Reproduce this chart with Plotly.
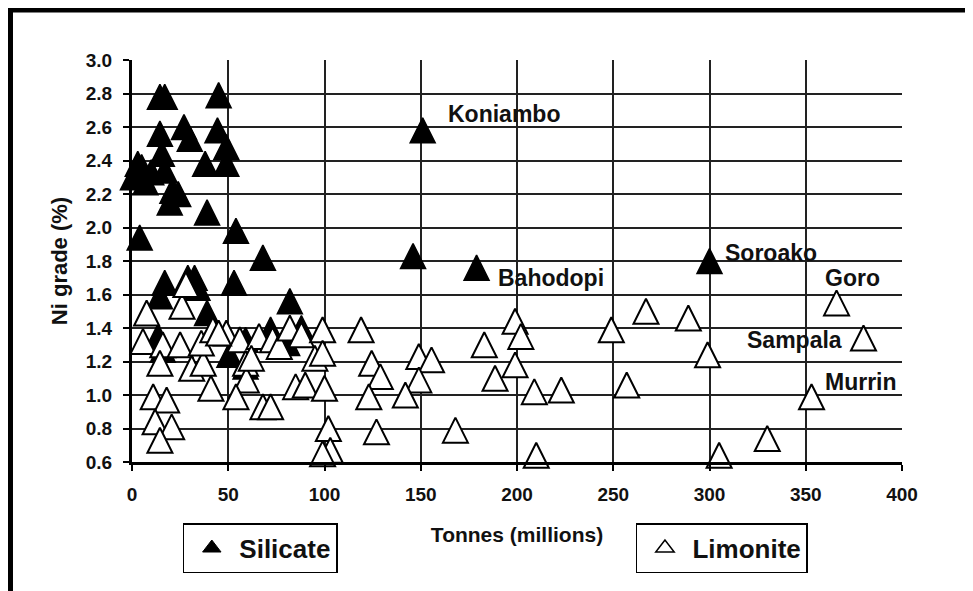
import plotly.graph_objects as go

# ---- data (Tonnes in millions, Ni grade %) ----
silicate_tonnes = [14.5, 17, 45, 14.5, 27, 30, 44.4, 49, 15.5, 5, 0.5, 10, 17, 38, 49,
                   21, 19.6, 24, 39, 54, 4, 3, 7, 151, 146, 179, 300, 68, 17, 29, 32.5,
                   53, 14.5, 34, 39, 82, 13.5, 16, 50.6, 59, 59, 72, 80.6, 88]
silicate_grade = [2.78, 2.78, 2.79, 2.56, 2.60, 2.53, 2.58, 2.48, 2.44, 2.36, 2.30, 2.33, 2.34, 2.38, 2.38,
                  2.22, 2.15, 2.20, 2.09, 1.98, 1.94, 2.38, 2.27, 2.58, 1.83, 1.76, 1.80, 1.82, 1.67, 1.70, 1.70,
                  1.67, 1.59, 1.64, 1.49, 1.56, 1.35, 1.27, 1.24, 1.33, 1.17, 1.39, 1.31, 1.40]

limonite_tonnes = [7.6, 26, 28, 5.7, 16, 25, 14.5, 31, 37, 36, 42, 49, 56, 41, 59, 59.4, 54, 11, 18,
                   12, 20.6, 14.5, 68, 72, 66, 73, 76.5, 82, 88, 85, 90, 95, 62, 45,
                   99, 119, 99, 100, 102, 103, 99, 124.5, 129, 123, 127, 149, 155.6,
                   149, 142, 168, 183, 188.6, 199, 202, 199, 209, 223, 210,
                   249, 267, 289, 299, 257, 366, 380, 353, 330, 305]
limonite_grade = [1.49, 1.53, 1.66, 1.32, 1.30, 1.30, 1.19, 1.16, 1.19, 1.31, 1.39, 1.37, 1.33, 1.04, 1.19, 1.09, 0.99, 0.99, 0.97,
                  0.84, 0.81, 0.73, 0.93, 0.93, 1.35, 1.33, 1.29, 1.40, 1.36, 1.05, 1.06, 1.22, 1.22, 1.37,
                  1.39, 1.39, 1.25, 1.04, 0.80, 0.67, 0.65, 1.19, 1.11, 0.99, 0.78, 1.23, 1.21,
                  1.09, 1.00, 0.79, 1.30, 1.10, 1.44, 1.35, 1.18, 1.02, 1.03, 0.64,
                  1.39, 1.50, 1.46, 1.24, 1.06, 1.55, 1.34, 0.99, 0.74, 0.64]

label_names = ["Koniambo", "Bahodopi", "Soroako", "Goro", "Sampala", "Murrin"]
label_x = [163, 189, 307, 359, 370, 359]
label_y = [2.68, 1.70, 1.85, 1.70, 1.33, 1.08]
label_anchor = ["left", "left", "left", "left", "right", "left"]

x_ticks = [0, 50, 100, 150, 200, 250, 300, 350, 400]
y_ticks = [0.6, 0.8, 1.0, 1.2, 1.4, 1.6, 1.8, 2.0, 2.2, 2.4, 2.6, 2.8, 3.0]

FONT = "Liberation Sans, Arial, sans-serif"
MS = 25

fig = go.Figure()
fig.add_trace(go.Scatter(
    x=silicate_tonnes, y=silicate_grade, mode="markers", showlegend=False, cliponaxis=False,
    marker=dict(symbol="arrow-down", angle=180, size=MS, standoff=MS / 2, color="black",
                line=dict(color="black", width=1.5))))
fig.add_trace(go.Scatter(
    x=limonite_tonnes, y=limonite_grade, mode="markers", showlegend=False, cliponaxis=False,
    marker=dict(symbol="arrow-down", angle=180, size=MS, standoff=MS / 2, color="white",
                line=dict(color="black", width=2))))
# legend entries
fig.add_trace(go.Scatter(
    x=[None], y=[None], mode="markers", name="Silicate", legend="legend",
    marker=dict(symbol="triangle-up", size=16, color="black",
                line=dict(color="black", width=1))))
fig.add_trace(go.Scatter(
    x=[None], y=[None], mode="markers", name="Limonite", legend="legend2",
    marker=dict(symbol="triangle-up", size=16, color="white",
                line=dict(color="black", width=1.5))))

for n, xx, yy, a in zip(label_names, label_x, label_y, label_anchor):
    fig.add_annotation(x=xx, y=yy, text=n, showarrow=False, xanchor=a, yanchor="middle",
                       font=dict(family=FONT, size=23, color="#111", weight="bold"))

axis_common = dict(showgrid=True, gridcolor="#222", gridwidth=2, zeroline=False,
                   showline=True, linecolor="black", linewidth=3,
                   ticks="outside", ticklen=6, tickwidth=2, tickcolor="black",
                   ticklabelstandoff=7,
                   tickfont=dict(family=FONT, size=19, color="#111", weight="bold"))

fig.update_xaxes(range=[0, 400], tickvals=x_ticks, ticktext=[str(v) for v in x_ticks],
                 title=dict(text="Tonnes (millions)", standoff=24,
                            font=dict(family=FONT, size=21, color="#111", weight="bold")),
                 **axis_common)
fig.update_yaxes(range=[0.6, 3.0], tickvals=y_ticks, ticktext=[f"{v:.1f}" for v in y_ticks],
                 title=dict(text="Ni grade (%)", standoff=13,
                            font=dict(family=FONT, size=22, color="#111", weight="bold")),
                 **axis_common)

legend_common = dict(yanchor="top", xanchor="left", bordercolor="black", borderwidth=1.5,
                     bgcolor="white", itemsizing="trace", itemwidth=45,
                     font=dict(family=FONT, size=26, color="#111", weight="bold"))
fig.update_layout(
    width=965, height=583,
    margin=dict(l=124, r=71, t=52, b=129),
    paper_bgcolor="white", plot_bgcolor="white",
    legend=dict(x=0.066, y=-0.152, **legend_common),
    legend2=dict(x=0.6545, y=-0.152, **legend_common),
    shapes=[
        dict(type="line", xref="paper", yref="paper", x0=-0.165, x1=1.095, y0=1.1244, y1=1.1244,
             line=dict(color="black", width=5)),
        dict(type="line", xref="paper", yref="paper", x0=-0.1578, x1=-0.1578, y0=1.13, y1=-0.33,
             line=dict(color="black", width=5)),
    ],
)

fig.write_html("out.html")
